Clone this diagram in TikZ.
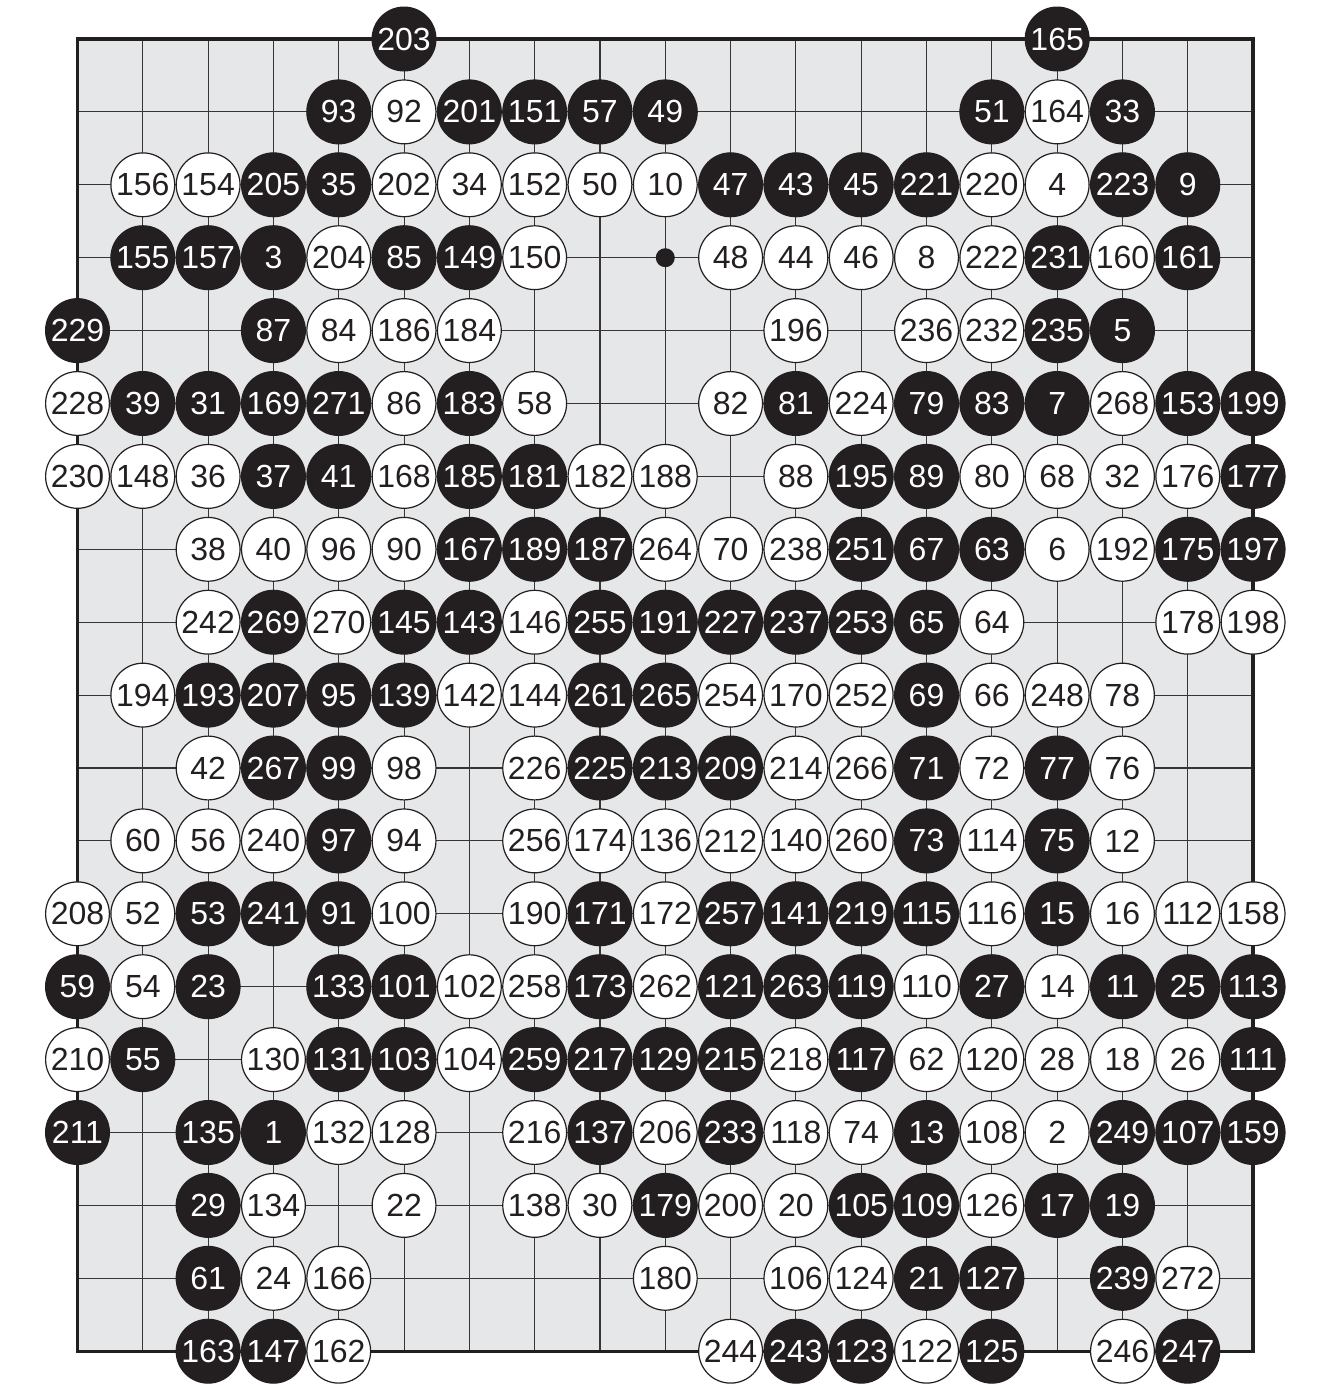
\documentclass[tikz,border=0pt]{standalone}
\usepackage{fontspec}
\setmainfont{Liberation Sans}
\definecolor{board}{HTML}{E6E7E9}
\definecolor{ink}{HTML}{231F20}
\tikzset{
  stonebase/.style={circle, draw=ink, line width=1.2pt, minimum size=63.8pt, inner sep=0pt, font=\fontsize{32}{32}\selectfont},
  bstone/.style={stonebase, fill=ink, text=white},
  wstone/.style={stonebase, fill=white, text=ink},
  gridline/.style={line width=1.1pt, draw=ink!90},
  boardframe/.style={line width=3.3pt, draw=ink},
}
\newcommand\Bs[3]{\node[bstone] (s#3) at (#1-1,#2-1) {#3};}
\newcommand\Ws[3]{\node[wstone] (s#3) at (#1-1,#2-1) {#3};}
\begin{document}
\begin{tikzpicture}[x=65.31pt,y=-72.9pt]
\useasboundingbox (-77.5pt,39pt) rectangle (1239.5pt,-1346pt);
\fill[white] (-77.5pt,39pt) rectangle (1239.5pt,-1346pt);
\fill[board] (0,0) rectangle (18,18);
\foreach \i in {1,...,17} {
  \draw[gridline] (\i,0) -- (\i,18);
  \draw[gridline] (0,\i) -- (18,\i);
}
\draw[boardframe] (0,0) rectangle (18,18);
\fill[ink] (9,3) circle (9.5pt);
% row 1
\Bs{6}{1}{203} \Bs{16}{1}{165}
% row 2
\Bs{5}{2}{93} \Ws{6}{2}{92} \Bs{7}{2}{201} \Bs{8}{2}{151} \Bs{9}{2}{57} \Bs{10}{2}{49} \Bs{15}{2}{51} \Ws{16}{2}{164} \Bs{17}{2}{33}
% row 3
\Ws{2}{3}{156} \Ws{3}{3}{154} \Bs{4}{3}{205} \Bs{5}{3}{35} \Ws{6}{3}{202} \Ws{7}{3}{34} \Ws{8}{3}{152} \Ws{9}{3}{50} \Ws{10}{3}{10} \Bs{11}{3}{47} \Bs{12}{3}{43} \Bs{13}{3}{45} \Bs{14}{3}{221} \Ws{15}{3}{220} \Ws{16}{3}{4} \Bs{17}{3}{223} \Bs{18}{3}{9}
% row 4
\Bs{2}{4}{155} \Bs{3}{4}{157} \Bs{4}{4}{3} \Ws{5}{4}{204} \Bs{6}{4}{85} \Bs{7}{4}{149} \Ws{8}{4}{150} \Ws{11}{4}{48} \Ws{12}{4}{44} \Ws{13}{4}{46} \Ws{14}{4}{8} \Ws{15}{4}{222} \Bs{16}{4}{231} \Ws{17}{4}{160} \Bs{18}{4}{161}
% row 5
\Bs{1}{5}{229} \Bs{4}{5}{87} \Ws{5}{5}{84} \Ws{6}{5}{186} \Ws{7}{5}{184} \Ws{12}{5}{196} \Ws{14}{5}{236} \Ws{15}{5}{232} \Bs{16}{5}{235} \Bs{17}{5}{5}
% row 6
\Ws{1}{6}{228} \Bs{2}{6}{39} \Bs{3}{6}{31} \Bs{4}{6}{169} \Bs{5}{6}{271} \Ws{6}{6}{86} \Bs{7}{6}{183} \Ws{8}{6}{58} \Ws{11}{6}{82} \Bs{12}{6}{81} \Ws{13}{6}{224} \Bs{14}{6}{79} \Bs{15}{6}{83} \Bs{16}{6}{7} \Ws{17}{6}{268} \Bs{18}{6}{153} \Bs{19}{6}{199}
% row 7
\Ws{1}{7}{230} \Ws{2}{7}{148} \Ws{3}{7}{36} \Bs{4}{7}{37} \Bs{5}{7}{41} \Ws{6}{7}{168} \Bs{7}{7}{185} \Bs{8}{7}{181} \Ws{9}{7}{182} \Ws{10}{7}{188} \Ws{12}{7}{88} \Bs{13}{7}{195} \Bs{14}{7}{89} \Ws{15}{7}{80} \Ws{16}{7}{68} \Ws{17}{7}{32} \Ws{18}{7}{176} \Bs{19}{7}{177}
% row 8
\Ws{3}{8}{38} \Ws{4}{8}{40} \Ws{5}{8}{96} \Ws{6}{8}{90} \Bs{7}{8}{167} \Bs{8}{8}{189} \Bs{9}{8}{187} \Ws{10}{8}{264} \Ws{11}{8}{70} \Ws{12}{8}{238} \Bs{13}{8}{251} \Bs{14}{8}{67} \Bs{15}{8}{63} \Ws{16}{8}{6} \Ws{17}{8}{192} \Bs{18}{8}{175} \Bs{19}{8}{197}
% row 9
\Ws{3}{9}{242} \Bs{4}{9}{269} \Ws{5}{9}{270} \Bs{6}{9}{145} \Bs{7}{9}{143} \Ws{8}{9}{146} \Bs{9}{9}{255} \Bs{10}{9}{191} \Bs{11}{9}{227} \Bs{12}{9}{237} \Bs{13}{9}{253} \Bs{14}{9}{65} \Ws{15}{9}{64} \Ws{18}{9}{178} \Ws{19}{9}{198}
% row 10
\Ws{2}{10}{194} \Bs{3}{10}{193} \Bs{4}{10}{207} \Bs{5}{10}{95} \Bs{6}{10}{139} \Ws{7}{10}{142} \Ws{8}{10}{144} \Bs{9}{10}{261} \Bs{10}{10}{265} \Ws{11}{10}{254} \Ws{12}{10}{170} \Ws{13}{10}{252} \Bs{14}{10}{69} \Ws{15}{10}{66} \Ws{16}{10}{248} \Ws{17}{10}{78}
% row 11
\Ws{3}{11}{42} \Bs{4}{11}{267} \Bs{5}{11}{99} \Ws{6}{11}{98} \Ws{8}{11}{226} \Bs{9}{11}{225} \Bs{10}{11}{213} \Bs{11}{11}{209} \Ws{12}{11}{214} \Ws{13}{11}{266} \Bs{14}{11}{71} \Ws{15}{11}{72} \Bs{16}{11}{77} \Ws{17}{11}{76}
% row 12
\Ws{2}{12}{60} \Ws{3}{12}{56} \Ws{4}{12}{240} \Bs{5}{12}{97} \Ws{6}{12}{94} \Ws{8}{12}{256} \Ws{9}{12}{174} \Ws{10}{12}{136} \Ws{11}{12}{212} \Ws{12}{12}{140} \Ws{13}{12}{260} \Bs{14}{12}{73} \Ws{15}{12}{114} \Bs{16}{12}{75} \Ws{17}{12}{12}
% row 13
\Ws{1}{13}{208} \Ws{2}{13}{52} \Bs{3}{13}{53} \Bs{4}{13}{241} \Bs{5}{13}{91} \Ws{6}{13}{100} \Ws{8}{13}{190} \Bs{9}{13}{171} \Ws{10}{13}{172} \Bs{11}{13}{257} \Bs{12}{13}{141} \Bs{13}{13}{219} \Bs{14}{13}{115} \Ws{15}{13}{116} \Bs{16}{13}{15} \Ws{17}{13}{16} \Ws{18}{13}{112} \Ws{19}{13}{158}
% row 14
\Bs{1}{14}{59} \Ws{2}{14}{54} \Bs{3}{14}{23} \Bs{5}{14}{133} \Bs{6}{14}{101} \Ws{7}{14}{102} \Ws{8}{14}{258} \Bs{9}{14}{173} \Ws{10}{14}{262} \Bs{11}{14}{121} \Bs{12}{14}{263} \Bs{13}{14}{119} \Ws{14}{14}{110} \Bs{15}{14}{27} \Ws{16}{14}{14} \Bs{17}{14}{11} \Bs{18}{14}{25} \Bs{19}{14}{113}
% row 15
\Ws{1}{15}{210} \Bs{2}{15}{55} \Ws{4}{15}{130} \Bs{5}{15}{131} \Bs{6}{15}{103} \Ws{7}{15}{104} \Bs{8}{15}{259} \Bs{9}{15}{217} \Bs{10}{15}{129} \Bs{11}{15}{215} \Ws{12}{15}{218} \Bs{13}{15}{117} \Ws{14}{15}{62} \Ws{15}{15}{120} \Ws{16}{15}{28} \Ws{17}{15}{18} \Ws{18}{15}{26} \Bs{19}{15}{111}
% row 16
\Bs{1}{16}{211} \Bs{3}{16}{135} \Bs{4}{16}{1} \Ws{5}{16}{132} \Ws{6}{16}{128} \Ws{8}{16}{216} \Bs{9}{16}{137} \Ws{10}{16}{206} \Bs{11}{16}{233} \Ws{12}{16}{118} \Ws{13}{16}{74} \Bs{14}{16}{13} \Ws{15}{16}{108} \Ws{16}{16}{2} \Bs{17}{16}{249} \Bs{18}{16}{107} \Bs{19}{16}{159}
% row 17
\Bs{3}{17}{29} \Ws{4}{17}{134} \Ws{6}{17}{22} \Ws{8}{17}{138} \Ws{9}{17}{30} \Bs{10}{17}{179} \Ws{11}{17}{200} \Ws{12}{17}{20} \Bs{13}{17}{105} \Bs{14}{17}{109} \Ws{15}{17}{126} \Bs{16}{17}{17} \Bs{17}{17}{19}
% row 18
\Bs{3}{18}{61} \Ws{4}{18}{24} \Ws{5}{18}{166} \Ws{10}{18}{180} \Ws{12}{18}{106} \Ws{13}{18}{124} \Bs{14}{18}{21} \Bs{15}{18}{127} \Bs{17}{18}{239} \Ws{18}{18}{272}
% row 19
\Bs{3}{19}{163} \Bs{4}{19}{147} \Ws{5}{19}{162} \Ws{11}{19}{244} \Bs{12}{19}{243} \Bs{13}{19}{123} \Ws{14}{19}{122} \Bs{15}{19}{125} \Ws{17}{19}{246} \Bs{18}{19}{247}
\end{tikzpicture}
\end{document}
